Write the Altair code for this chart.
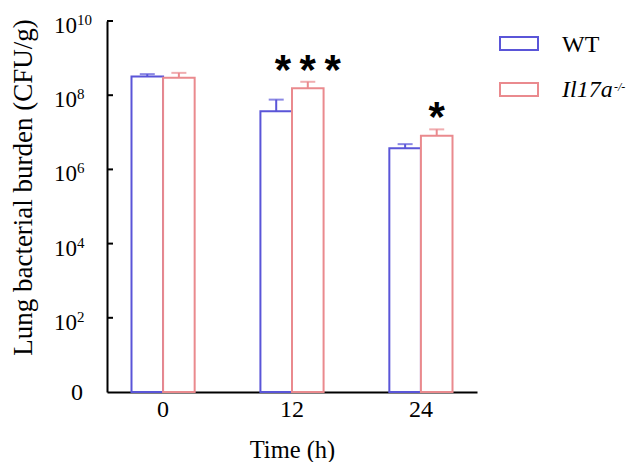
import altair as alt
import pandas as pd

# ---------------- data ----------------
times = ["0", "12", "24"]
groups = ["WT", "Il17a"]
wt_mean = [3.2e8, 3.7e7, 3.7e6]
wt_upper = [3.7e8, 7.6e7, 4.8e6]
ko_mean = [2.95e8, 1.55e8, 8.1e6]
ko_upper = [4.0e8, 2.3e8, 1.2e7]
stars = ["", "*\u2009*\u2009*", "*"]
y_exponents = [2, 4, 6, 8, 10]
colors = ["#5A55D8", "#EA8A8E"]

rows = []
for i, t in enumerate(times):
    rows.append(dict(time=t, group="WT", mean=wt_mean[i], upper=wt_upper[i], star=""))
    rows.append(dict(time=t, group="Il17a", mean=ko_mean[i], upper=ko_upper[i], star=stars[i]))
df = pd.DataFrame(rows)

ylab = pd.DataFrame({"value": [10.0 ** e for e in y_exponents],
                     "exp": [str(e) for e in y_exponents]})
zero = pd.DataFrame({"value": [1.0], "txt": ["0"]})

FONT = "Liberation Serif"

yscale = alt.Scale(type="log", domain=[1, 1e10])
xscale = alt.Scale(domain=times, paddingInner=0.51, paddingOuter=0.19)
offscale = alt.Scale(domain=groups, paddingInner=0, paddingOuter=0)
cscale = alt.Scale(domain=groups, range=colors)

x_axis = alt.Axis(title="Time (h)", labelAngle=0, ticks=False, labelPadding=5,
                  labelFont=FONT, labelFontSize=24, labelColor="black",
                  titleFont=FONT, titleFontSize=24.5, titleFontWeight="normal",
                  titleColor="black", titleY=65, titleBaseline="alphabetic",
                  domainColor="black", domainWidth=2, grid=False)
y_axis = alt.Axis(title="Lung bacterial burden (CFU/g)", labels=False, ticks=False,
                  grid=False, domainColor="black", domainWidth=2,
                  titleFont=FONT, titleFontSize=27, titleFontWeight="normal",
                  titleColor="black", titleX=-76, titleY=166, titleAngle=-90,
                  titleAlign="center", titleBaseline="alphabetic")

X = alt.X("time:N", scale=xscale, sort=times, axis=x_axis)
XO = alt.XOffset("group:N", scale=offscale, sort=groups)
C = alt.Color("group:N", scale=cscale, legend=None)

base = alt.Chart(df)

bars = base.mark_bar(fill="white", strokeWidth=2).encode(
    x=X, xOffset=XO,
    y=alt.Y("mean:Q", scale=yscale, axis=y_axis),
    y2=alt.datum(1),
    stroke=alt.Stroke("group:N", scale=cscale, legend=None),
)

err = base.mark_rule(strokeWidth=2).encode(
    x=X, xOffset=XO,
    y=alt.Y("mean:Q", scale=yscale, axis=y_axis),
    y2="upper:Q",
    color=C,
)

caps = base.mark_tick(size=15, thickness=2, orient="horizontal").encode(
    x=X, xOffset=XO,
    y=alt.Y("upper:Q", scale=yscale, axis=y_axis),
    color=C,
)

star_text = base.mark_text(font="Liberation Sans", fontWeight="bold", fontSize=42,
                           baseline="alphabetic", align="center", dy=2,
                           color="black").encode(
    x=X, xOffset=XO,
    y=alt.Y("upper:Q", scale=yscale, axis=y_axis),
    text="star:N",
)

# y-axis ticks (inward) and labels
yticks = alt.Chart(ylab).mark_rule(color="black", strokeWidth=2).encode(
    x=alt.value(0), x2=alt.value(6),
    y=alt.Y("value:Q", scale=yscale, axis=y_axis),
)
ybase = alt.Chart(ylab).mark_text(text="10", font=FONT, fontSize=23, align="right",
                                  baseline="middle", dy=5, color="black").encode(
    x=alt.value(-30),
    y=alt.Y("value:Q", scale=yscale, axis=y_axis),
)
yexp = alt.Chart(ylab).mark_text(font=FONT, fontSize=15, align="left",
                                 baseline="middle", dy=-1, color="black").encode(
    x=alt.value(-30),
    y=alt.Y("value:Q", scale=yscale, axis=y_axis),
    text="exp:N",
)
yzero = alt.Chart(zero).mark_text(font=FONT, fontSize=24, align="right",
                                  baseline="middle", dy=1, color="black").encode(
    x=alt.value(-24),
    y=alt.Y("value:Q", scale=yscale, axis=y_axis),
    text="txt:N",
)

# legend (manual)
leg = alt.Chart(pd.DataFrame({"group": groups}))
leg_wt_rect = leg.transform_filter(alt.datum.group == "WT").mark_rect(
    fill="white", stroke=colors[0], strokeWidth=2).encode(
    x=alt.value(393), x2=alt.value(431), y=alt.value(16), y2=alt.value(29))
leg_ko_rect = leg.transform_filter(alt.datum.group == "Il17a").mark_rect(
    fill="white", stroke=colors[1], strokeWidth=2).encode(
    x=alt.value(393), x2=alt.value(431), y=alt.value(62), y2=alt.value(75))
leg_wt_text = leg.transform_filter(alt.datum.group == "WT").mark_text(
    font=FONT, fontSize=24, align="left", baseline="alphabetic", color="black").encode(
    x=alt.value(455), y=alt.value(31), text=alt.value("WT"))
leg_ko_text = leg.transform_filter(alt.datum.group == "Il17a").mark_text(
    font=FONT, fontSize=24, fontStyle="italic", align="left", baseline="alphabetic",
    color="black").encode(
    x=alt.value(455), y=alt.value(76), text=alt.value("Il17a"))
leg_ko_sup = leg.transform_filter(alt.datum.group == "Il17a").mark_text(
    font=FONT, fontSize=12, fontStyle="italic", align="left", baseline="middle",
    color="black").encode(
    x=alt.value(507), y=alt.value(66), text=alt.value("-/-"))

chart = alt.layer(
    bars, err, caps, star_text, yticks, ybase, yexp, yzero,
    leg_wt_rect, leg_ko_rect, leg_wt_text, leg_ko_text, leg_ko_sup,
).properties(
    width=370, height=371,
    autosize=alt.AutoSizeParams(type="none"),
    padding={"left": 107, "top": 21, "right": 154, "bottom": 70},
    background="white",
).configure_view(stroke=None)

chart.save("out.html", embed_options={"renderer": "svg", "actions": False})
